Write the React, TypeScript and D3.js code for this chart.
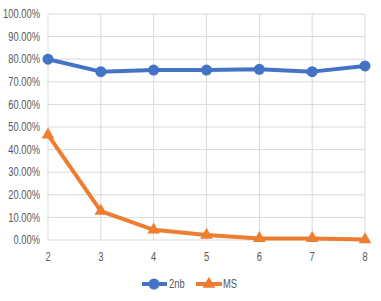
import * as React from 'react';
import * as d3 from 'd3';

const categories = [2, 3, 4, 5, 6, 7, 8];
const nb2 = [0.80, 0.745, 0.752, 0.752, 0.755, 0.745, 0.77];
const ms = [0.465, 0.128, 0.045, 0.022, 0.007, 0.007, 0.002];
const yTicks = [0, 0.1, 0.2, 0.3, 0.4, 0.5, 0.6, 0.7, 0.8, 0.9, 1.0];

const W = 381;
const H = 301;
const BLUE = '#4472C4';
const ORANGE = '#ED7D31';
const FONT = '"Liberation Sans Narrow", "Liberation Sans", Arial, sans-serif';
const SQUEEZE = 0.78; // the source font is condensed

export default function App() {
  const x = d3.scaleLinear().domain([2, 8]).range([48, 365]);
  const y = d3.scaleLinear().domain([0, 1]).range([240, 14]);
  const line = d3.line<number>().x((_, i) => x(categories[i])).y(d => y(d));
  const tri = d3.symbol().type(d3.symbolTriangle).size(70)();
  const fmt = d3.format('.2%');

  return (
    <div style={{ position: 'absolute', left: 0, top: 0 }}>
      <svg width={W} height={H} style={{ display: 'block', background: '#fff' }}>
        <g>
          {yTicks.map(t => (
            <line key={t} x1={x(2)} x2={x(8)} y1={y(t)} y2={y(t)} stroke="#d9d9d9" strokeWidth={1} />
          ))}
          {categories.map(c => (
            <line key={c} x1={x(c)} x2={x(c)} y1={y(0)} y2={y(1)} stroke="#d9d9d9" strokeWidth={1} />
          ))}
        </g>
        <g fontFamily={FONT} fontSize={12} fill="#595959">
          {yTicks.map(t => (
            <text key={t} transform={`translate(40,${y(t)}) scale(${SQUEEZE},1)`} dy="0.35em" textAnchor="end">{fmt(t)}</text>
          ))}
          {categories.map(c => (
            <text key={c} transform={`translate(${x(c)},257) scale(${SQUEEZE},1)`} dy="0.35em" textAnchor="middle">{c}</text>
          ))}
        </g>
        <path d={line(nb2) || ''} fill="none" stroke={BLUE} strokeWidth={4} strokeLinejoin="round" />
        {nb2.map((v, i) => (
          <circle key={i} cx={x(categories[i])} cy={y(v)} r={5.5} fill={BLUE} />
        ))}
        <path d={line(ms) || ''} fill="none" stroke={ORANGE} strokeWidth={4} strokeLinejoin="round" />
        {ms.map((v, i) => (
          <path key={i} d={tri || ''} transform={`translate(${x(categories[i])},${y(v)})`} fill={ORANGE} />
        ))}
        <g fontFamily={FONT} fontSize={12} fill="#595959">
          <line x1={142} x2={167} y1={284} y2={284} stroke={BLUE} strokeWidth={4} />
          <circle cx={154} cy={284} r={5.5} fill={BLUE} />
          <text transform={`translate(169,284) scale(${SQUEEZE},1)`} dy="0.35em">2nb</text>
          <line x1={196} x2={222} y1={284} y2={284} stroke={ORANGE} strokeWidth={4} />
          <path d={tri || ''} transform="translate(209,284)" fill={ORANGE} />
          <text transform={`translate(223,284) scale(${SQUEEZE},1)`} dy="0.35em">MS</text>
        </g>
      </svg>
    </div>
  );
}
